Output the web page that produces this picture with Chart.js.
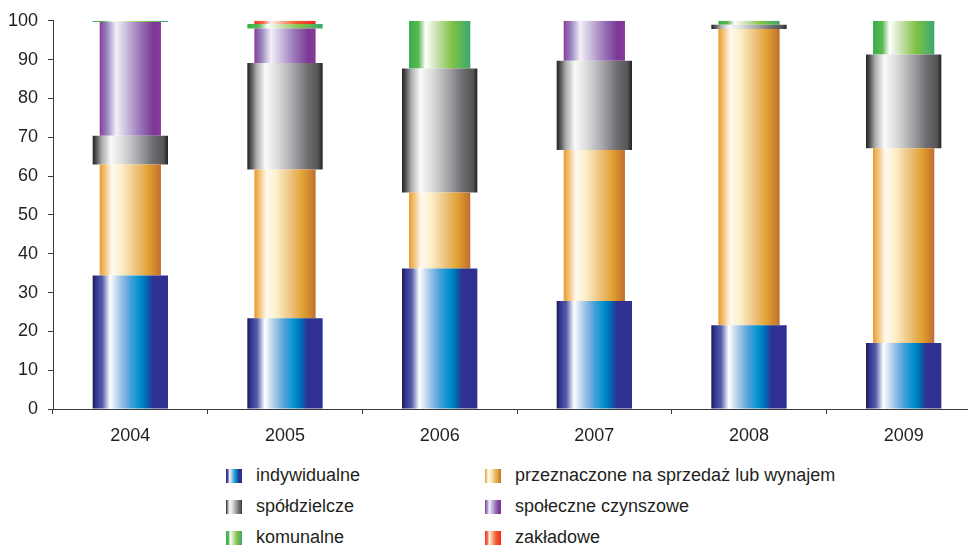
<!DOCTYPE html>
<html>
<head>
<meta charset="utf-8">
<script src="https://cdn.jsdelivr.net/npm/chart.js@4"></script>
<style>
    body { margin: 0; overflow: hidden; background: #fff; font-family: 'Liberation Sans', Arial, sans-serif; }
    #wrap { position: relative; width: 990px; height: 450px; }
    #legend {
        position: absolute; left: 226px; top: 460px;
        display: grid; grid-template-columns: 259px auto; grid-auto-rows: 31px;
        font-size: 18px; color: #231f20;
    }
    .item { display: flex; align-items: center; white-space: nowrap; }
    .swatch { width: 16px; height: 14px; margin-right: 14px; }
</style>
</head>
<body>
<div id="wrap"><canvas id="chart"></canvas></div>
<div id="legend"></div>
<script>
const years = ['2004', '2005', '2006', '2007', '2008', '2009'];
const yTicks = [0, 10, 20, 30, 40, 50, 60, 70, 80, 90, 100];

// udzialy (%) poszczegolnych form budownictwa
const indywidualne = [34.4, 23.4, 36.2, 27.8, 21.6, 17.0];
const przeznaczone = [28.6, 38.3, 19.6, 38.9, 76.3, 50.2];
const spoldzielcze = [7.4, 27.4, 31.9, 23.0, 1.1, 24.1];
const spoleczne = [29.3, 8.9, 0, 10.3, 0, 0];
const komunalne = [0.3, 1.2, 12.3, 0, 1.0, 8.7];
const zakladowe = [0, 0.8, 0, 0, 0, 0];

// gradient stops, left to right across a bar
const gradBlue = [[0, '#1b1b3a'], [0.04, '#2e3192'], [0.13, '#5560a8'], [0.23, '#ffffff'], [0.36, '#a8c8e8'], [0.5, '#4aa0d8'], [0.62, '#0093d0'], [0.72, '#0068b0'], [0.8, '#2e3192'], [1, '#2e3192']];
const gradOrange = [[0, '#e89a30'], [0.08, '#f4c070'], [0.2, '#fffaf0'], [0.36, '#fbefc8'], [0.56, '#efc88a'], [0.8, '#e0a030'], [1, '#c06e30']];
const gradGray = [[0, '#222222'], [0.05, '#555555'], [0.12, '#aaaaaa'], [0.24, '#fafafa'], [0.4, '#dcdcdc'], [0.6, '#aaa8ac'], [0.8, '#6e6e72'], [0.94, '#555555'], [1, '#222222']];
const gradPurple = [[0, '#8a3a98'], [0.12, '#9888c0'], [0.27, '#f4f0fa'], [0.45, '#c8b8dc'], [0.65, '#9a78b8'], [0.88, '#7a3896'], [1, '#8a3a98']];
const gradGreen = [[0, '#36b04a'], [0.15, '#5ab850'], [0.27, '#ffffff'], [0.45, '#c8e2b0'], [0.7, '#80c242'], [1, '#3aa96e']];
const gradRed = [[0, '#ee3324'], [0.15, '#f47050'], [0.27, '#fff0e8'], [0.45, '#f8b090'], [0.7, '#f05a28'], [1, '#ee2a24']];

const WIDE = 0.487;
const NARROW = 0.396;

function barGradient(stops, pct) {
    const fallback = stops[Math.floor(stops.length / 2)][1];
    return function(ctx) {
        const chart = ctx.chart;
        const xScale = chart.scales && chart.scales.x;
        if (!xScale || ctx.type !== 'data') return fallback;
        const cx = xScale.getPixelForValue(ctx.dataIndex);
        const w = xScale.width / years.length * pct;
        if (!isFinite(cx) || !isFinite(w) || w <= 0) return fallback;
        const g = chart.ctx.createLinearGradient(cx - w / 2, 0, cx + w / 2, 0);
        stops.forEach(s => g.addColorStop(s[0], s[1]));
        return g;
    };
}

// komunalne alternates width with the segment beneath it
const komunalneWide = komunalne.map((v, i) => spoleczne[i] > 0 ? v : null);
const komunalneNarrow = komunalne.map((v, i) => spoleczne[i] > 0 ? null : v);

const series = [
    { label: 'indywidualne', data: indywidualne, stops: gradBlue, pct: WIDE },
    { label: 'przeznaczone na sprzedaż lub wynajem', data: przeznaczone, stops: gradOrange, pct: NARROW },
    { label: 'spółdzielcze', data: spoldzielcze, stops: gradGray, pct: WIDE },
    { label: 'społeczne czynszowe', data: spoleczne, stops: gradPurple, pct: NARROW },
    { label: 'komunalne', data: komunalneWide, stops: gradGreen, pct: WIDE },
    { label: 'komunalne', data: komunalneNarrow, stops: gradGreen, pct: NARROW, hidden: true },
    { label: 'zakładowe', data: zakladowe, stops: gradRed, pct: NARROW }
];

const fontFamily = "'Liberation Sans', Arial, sans-serif";
const inkColor = '#231f20';
const axisColor = '#3a3a3a';

const chart = new Chart(document.getElementById('chart'), {
    type: 'bar',
    data: {
        labels: years,
        datasets: series.map(s => ({
            label: s.label,
            data: s.data,
            backgroundColor: barGradient(s.stops, s.pct),
            borderWidth: 0,
            categoryPercentage: 1,
            barPercentage: s.pct,
            stack: 'all'
        }))
    },
    options: {
        responsive: true,
        maintainAspectRatio: false,
        animation: false,
        layout: { padding: { left: 8, right: 9, top: 19.2, bottom: 3 } },
        plugins: {
            legend: { display: false },
            tooltip: { enabled: false }
        },
        scales: {
            x: {
                stacked: true,
                offset: true,
                afterFit: axis => { axis.height = 38; },
                border: { display: true, color: axisColor, width: 1 },
                grid: { offset: true, drawOnChartArea: false, drawTicks: true, tickLength: 5, color: axisColor },
                ticks: { padding: 11, color: inkColor, font: { family: fontFamily, size: 18 } }
            },
            y: {
                stacked: true,
                min: yTicks[0],
                max: yTicks[yTicks.length - 1],
                afterBuildTicks: axis => { axis.ticks = yTicks.map(v => ({ value: v })); },
                afterFit: axis => { axis.width = 45; },
                border: { display: true, color: axisColor, width: 1 },
                grid: { drawOnChartArea: false, drawTicks: true, tickLength: 5, color: axisColor },
                ticks: { padding: 10, color: inkColor, font: { family: fontFamily, size: 18 } }
            }
        }
    }
});

// legend in two columns, built from the datasets
function cssGradient(stops) {
    return 'linear-gradient(to right, ' + stops.map(s => s[1] + ' ' + (s[0] * 100) + '%').join(', ') + ')';
}
const legendEl = document.getElementById('legend');
series.filter(s => !s.hidden).forEach(s => {
    const item = document.createElement('div');
    item.className = 'item';
    const sw = document.createElement('span');
    sw.className = 'swatch';
    sw.style.background = cssGradient(s.stops);
    const txt = document.createElement('span');
    txt.textContent = s.label;
    item.appendChild(sw);
    item.appendChild(txt);
    legendEl.appendChild(item);
});
</script>
</body>
</html>
